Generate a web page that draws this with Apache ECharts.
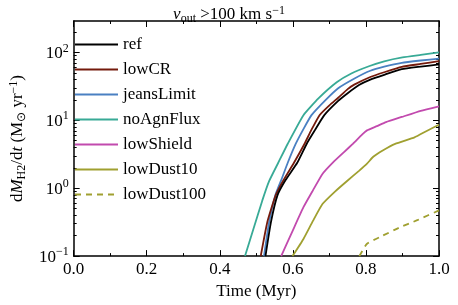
<!DOCTYPE html>
<html><head><meta charset="utf-8">
<script src="https://cdn.jsdelivr.net/npm/echarts@6/dist/echarts.min.js"></script>
<style>html,body{margin:0;padding:0;background:#fff}#c{width:458px;height:305px}</style>
</head><body><div id="c"></div>
<script>
// ---- data (time in Myr, dM/dt in Msun/yr) ----
const refT = [0.525,0.54,0.558,0.58,0.612,0.638,0.66,0.686,0.724,0.75,0.781,0.812,0.85,0.898,0.95,1.0];
const refV = [0.1,0.316,0.79,1.32,2.37,4.52,7.1,11.9,19.3,25.1,33.1,39.8,46.8,56.6,61.7,66.5];
const lowCRT = [0.512,0.53,0.553,0.575,0.603,0.632,0.65,0.673,0.70,0.724,0.75,0.768,0.812,0.85,0.898,0.95,1.0];
const lowCRV = [0.1,0.316,0.79,1.33,2.37,4.52,7.1,11.9,16.6,21.5,28.8,33.5,43.4,51,61.2,67.6,74.3];
const jeansT = [0.521,0.535,0.552,0.57,0.586,0.608,0.63,0.651,0.69,0.724,0.77,0.812,0.85,0.898,0.95,1.0];
const jeansV = [0.1,0.316,0.79,1.4,2.37,4.52,7.6,11.9,20,29.7,41.7,53.7,61.7,70.3,76,81];
const noAgnT = [0.469,0.492,0.516,0.535,0.56,0.586,0.629,0.67,0.72,0.76,0.81,0.85,0.90,0.95,1.0];
const noAgnV = [0.1,0.251,0.65,1.27,2.37,4.52,11.9,21,36.3,49,63,74,84.5,92,100];
const lowShieldT = [0.568,0.60,0.629,0.655,0.681,0.71,0.74,0.764,0.79,0.803,0.83,0.855,0.898,0.95,1.0];
const lowShieldV = [0.1,0.24,0.525,0.93,1.62,2.4,3.4,4.5,6.2,7.1,8.2,9.4,11.2,13.8,16.1];
const lowDust10T = [0.599,0.629,0.655,0.681,0.716,0.75,0.781,0.803,0.82,0.846,0.88,0.933,0.965,1.0];
const lowDust10V = [0.1,0.179,0.33,0.585,0.9,1.3,1.8,2.3,2.9,3.6,4.5,5.6,6.9,8.6];
const lowDust100T = [0.782,0.803,0.846,0.89,0.942,1.0];
const lowDust100V = [0.1,0.152,0.2,0.261,0.341,0.471];

const seriesNames = ['ref','lowCR','jeansLimit','noAgnFlux','lowShield','lowDust10','lowDust100'];
const xTicks = [0,0.2,0.4,0.6,0.8,1.0];
const yMajor = [0.1,1,10,100];

const FONT = 'Liberation Serif';
const colors = ['#000000','#741a0c','#4a80c2','#38aa96','#c24aae','#a0a030','#a0a030'];
const pairs = [[refT,refV],[lowCRT,lowCRV],[jeansT,jeansV],[noAgnT,noAgnV],[lowShieldT,lowShieldV],[lowDust10T,lowDust10V],[lowDust100T,lowDust100V]];

const yMinor = [];
[0.1,1,10,100].forEach(b=>{for(let k=2;k<=9;k++){const v=+(b*k).toPrecision(3); if(v<=290) yMinor.push(v);}});

function expLabel(v){
  const e = Math.round(Math.log10(v));
  return '{b|10}{s|' + (e<0 ? '\u2212'+(-e) : e) + '}';
}
const labRich = {
  b:{fontFamily:FONT,fontSize:17,color:'#000',lineHeight:20,verticalAlign:'bottom'},
  s:{fontFamily:FONT,fontSize:12,color:'#000',lineHeight:12,verticalAlign:'top'}
};
const mathRich = {
  n:{fontFamily:FONT,fontSize:17,fontWeight:'normal',color:'#000',lineHeight:20,verticalAlign:'middle'},
  i:{fontFamily:FONT,fontSize:17,fontWeight:'normal',fontStyle:'italic',color:'#000',lineHeight:20,verticalAlign:'middle'},
  sub:{fontFamily:FONT,fontSize:12,fontWeight:'normal',color:'#000',lineHeight:11,verticalAlign:'bottom'},
  sup:{fontFamily:FONT,fontSize:12,fontWeight:'normal',color:'#000',lineHeight:11,verticalAlign:'top'}
};
const MIN=0.1, MAX=290;
function yAx(pos, ticks, len, showLine, labels){
  return {
    type:'log', logBase:10, min:MIN, max:MAX, position:pos,
    axisLine:{show:showLine, onZero:false, lineStyle:{color:'#000',width:1.5}},
    axisTick:{show:true, inside:true, length:len, customValues:ticks, lineStyle:{color:'#000',width:1}},
    axisLabel:labels ? {show:true, customValues:yMajor, margin:5, formatter:expLabel, rich:labRich} : {show:false},
    splitLine:{show:false}, minorTick:{show:false},
    name: labels ? '{n|d}{i|M}{sub|H2}{n|/d}{i|t}{n| (M}{sub|\u2299}{n| yr}{sup|\u22121}{n|)}' : '',
    nameLocation:'middle', nameGap:35, nameRotate:90,
    nameTextStyle:{rich:mathRich}
  };
}
function xAx(pos, labels){
  return {
    type:'value', min:0, max:1, interval:0.2, position:pos,
    axisLine:{show:true, onZero:false, lineStyle:{color:'#000',width:1.5}},
    axisTick:{show:true, inside:true, length:6, lineStyle:{color:'#000',width:1}},
    minorTick:{show:true, splitNumber:2, length:3, lineStyle:{color:'#000',width:1}},
    axisLabel:labels ? {show:true, margin:5, fontFamily:FONT, fontSize:17, color:'#000', formatter:v=>v.toFixed(1), customValues:xTicks} : {show:false},
    splitLine:{show:false},
    name: labels ? 'Time (Myr)' : '', nameLocation:'middle', nameGap:19,
    nameTextStyle:{fontFamily:FONT,fontSize:17,color:'#000'}
  };
}

const chart = echarts.init(document.getElementById('c'), null, {renderer:'canvas'});
chart.setOption({
  animation:false,
  backgroundColor:'#fff',
  title:{
    text:'{i|v}{sub|out}{n| >100 km s}{sup|\u22121}',
    left:'center', top:0,
    textStyle:{fontWeight:'normal', rich:mathRich}
  },
  grid:{left:55, right:19, top:21, bottom:37, containLabel:false},
  legend:{
    orient:'vertical', left:74, top:31, padding:[5,0,5,0], itemWidth:43, itemHeight:14, itemGap:8,
    itemStyle:{opacity:0},
    textStyle:{fontFamily:FONT,fontSize:17,color:'#000',lineHeight:17},
    data:seriesNames
  },
  xAxis:[xAx('bottom',true), xAx('top',false)],
  yAxis:[yAx('left',yMajor,6,true,true), yAx('left',yMinor,3,false,false), yAx('right',yMajor,6,true,false), yAx('right',yMinor,3,false,false)],
  series: seriesNames.map((n,i)=>({
    name:n, type:'line', xAxisIndex:0, yAxisIndex:0, symbol:'none', showSymbol:false,
    smooth:0.15,
    color:colors[i],
    lineStyle:{color:colors[i], width:1.8, type: n==='lowDust100' ? [6,5] : 'solid'},
    data: pairs[i][0].map((t,j)=>[t, pairs[i][1][j]]),
    z: 10 - i
  }))
});
</script></body></html>
